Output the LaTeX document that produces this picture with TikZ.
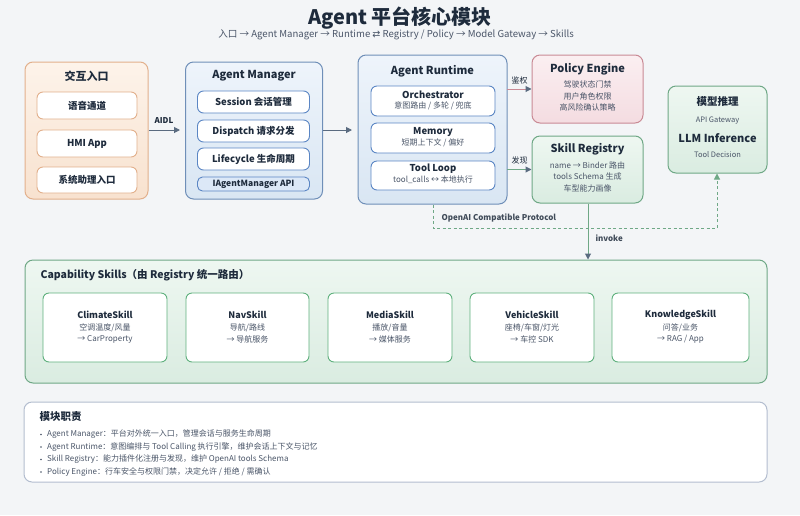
\documentclass[tikz,border=0pt]{standalone}
\usepackage{fontspec}
\setmainfont{Noto Sans CJK SC}
\newfontfamily\symf{DejaVu Sans}
\usetikzlibrary{arrows.meta,positioning}
\definecolor{bg}{HTML}{F3F5F7}
\definecolor{ink}{HTML}{1E2B3C}
\definecolor{sub}{HTML}{4A5568}
\definecolor{orgB}{HTML}{E2B08C}
\definecolor{orgT}{HTML}{FDF3EA}
\definecolor{orgBt}{HTML}{F8E2CF}
\definecolor{bluB}{HTML}{6F8FB8}
\definecolor{bluT}{HTML}{EEF4FB}
\definecolor{bluBt}{HTML}{D9E6F3}
\definecolor{inB}{HTML}{5B86C4}
\definecolor{apiF}{HTML}{DCE8F7}
\definecolor{pnkB}{HTML}{C98A95}
\definecolor{pnkT}{HTML}{FBEFF1}
\definecolor{pnkBt}{HTML}{F4DCE1}
\definecolor{grnB}{HTML}{6FA886}
\definecolor{grnT}{HTML}{EEF7F1}
\definecolor{grnBt}{HTML}{DAECE1}
\definecolor{skB}{HTML}{5FB07D}
\definecolor{arr}{HTML}{5A6B80}
\definecolor{resB}{HTML}{B3BDCF}
\tikzset{
  x=1pt,y=-1pt,
  bigbox/.style={rounded corners=8pt,line width=1pt,inner sep=0pt},
  inbox/.style={rounded corners=6pt,line width=0.9pt,fill=white,inner sep=0pt},
  ttl/.style={font=\fontsize{11}{13}\selectfont\bfseries,text=ink},
  itm/.style={font=\fontsize{9.5}{11}\selectfont\bfseries,text=ink},
  sm/.style={font=\fontsize{8}{10}\selectfont,text=sub},
  lbl/.style={font=\fontsize{8}{10}\selectfont\bfseries,text=sub},
  conn/.style={line width=1pt,-{Triangle[length=6pt,width=6pt]}},
  bul/.style={font=\fontsize{8}{10}\selectfont,text=sub,anchor=west,inner sep=0pt},
}
\begin{document}
\begin{tikzpicture}
\fill[bg] (0,0) rectangle (800,515);
\useasboundingbox (0,0) rectangle (800,515);
% title
\node[font=\fontsize{20}{24}\selectfont\bfseries,text=ink] (title) at (400,18) {Agent 平台核心模块};
\node[font=\fontsize{9.6}{12}\selectfont,text=sub] (subt) at (396,35) {入口 → Agent Manager → Runtime {\symf ⇄} Registry / Policy → Model Gateway → Skills};
% entry
\node[bigbox,draw=orgB,top color=orgT,bottom color=orgBt,minimum width=123,minimum height=137] (inp) at (86.5,130.5) {};
\node[ttl] (inpt) at (86.5,76) {交互入口};
\node[inbox,draw=orgB,minimum width=100,minimum height=27] (inp1) at (87,105.5) {};
\node[itm] at (inp1) {语音通道};
\node[inbox,draw=orgB,minimum width=100,minimum height=27] (inp2) at (87,143.5) {};
\node[itm] at (inp2) {HMI App};
\node[inbox,draw=orgB,minimum width=100,minimum height=26] (inp3) at (87,180) {};
\node[itm] at (inp3) {系统助理入口};
% agent manager
\node[bigbox,draw=bluB,top color=bluT,bottom color=bluBt,minimum width=137,minimum height=137] (am) at (254,130.5) {};
\node[ttl] (amt) at (254,76) {Agent Manager};
\node[inbox,draw=inB,minimum width=112,minimum height=22] (am1) at (253.5,102) {};
\node[itm] at (am1) {Session 会话管理};
\node[inbox,draw=inB,minimum width=112,minimum height=22] (am2) at (253.5,131) {};
\node[itm] at (am2) {Dispatch 请求分发};
\node[inbox,draw=inB,minimum width=112,minimum height=22] (am3) at (253.5,159) {};
\node[itm] at (am3) {Lifecycle 生命周期};
\node[inbox,draw=inB,fill=apiF,rounded corners=5pt,minimum width=112,minimum height=14] (am4) at (253.5,184) {};
\node[itm,font=\fontsize{8.5}{10}\selectfont\bfseries] at (am4) {IAgentManager API};
% runtime
\node[bigbox,draw=bluB,top color=bluT,bottom color=bluBt,minimum width=149,minimum height=149] (rt) at (432.5,129.5) {};
\node[ttl] (rtt) at (432.5,71) {Agent Runtime};
\node[inbox,draw=inB,minimum width=124,minimum height=30] (rt1) at (433,101) {};
\node[itm] at (433,95) {Orchestrator};
\node[sm] at (433,105.5) {意图路由 / 多轮 / 兜底};
\node[inbox,draw=inB,minimum width=124,minimum height=30] (rt2) at (433,138) {};
\node[itm] at (433,132) {Memory};
\node[sm] at (433,142.5) {短期上下文 / 偏好};
\node[inbox,draw=inB,minimum width=124,minimum height=29] (rt3) at (433,175.5) {};
\node[itm] at (433,169) {Tool Loop};
\node[sm] at (433,179.5) {tool\_calls ↔ 本地执行};
% policy
\node[bigbox,draw=pnkB,top color=pnkT,bottom color=pnkBt,minimum width=111,minimum height=68] (pol) at (587.5,89) {};
\node[ttl] at (587.5,69) {Policy Engine};
\node[sm] at (587.5,84.5) {驾驶状态门禁};
\node[sm] at (587.5,96) {用户角色权限};
\node[sm] at (587.5,107.5) {高风险确认策略};
% registry
\node[bigbox,draw=grnB,top color=grnT,bottom color=grnBt,minimum width=111,minimum height=67] (reg) at (587.5,169.5) {};
\node[ttl] at (587.5,149) {Skill Registry};
\node[sm] at (587.5,165) {name → Binder 路由};
\node[sm] at (587.5,176.5) {tools Schema 生成};
\node[sm] at (587.5,188) {车型能力画像};
% model
\node[bigbox,draw=grnB,top color=grnT,bottom color=grnBt,minimum width=99,minimum height=87] (mdl) at (717.5,129.5) {};
\node[ttl,font=\fontsize{10.5}{12}\selectfont\bfseries] at (717.5,102) {模型推理};
\node[sm,font=\fontsize{7.5}{9}\selectfont] at (717.5,121) {API Gateway};
\node[ttl] at (717.5,138) {LLM Inference};
\node[sm,font=\fontsize{7.5}{9}\selectfont] at (717.5,154.5) {Tool Decision};
% capability
\node[bigbox,draw=grnB,top color=grnT,bottom color=grnBt,minimum width=742,minimum height=123] (cap) at (396,321.5) {};
\node[ttl,font=\fontsize{10.5}{12}\selectfont\bfseries,anchor=west] at (37,275) {Capability Skills（由 Registry 统一路由）};
\node[inbox,draw=skB,minimum width=124,minimum height=69] (s1) at (105,327.5) {};
\node[itm,font=\fontsize{9}{11}\selectfont\bfseries] at (105,315) {ClimateSkill};
\node[sm] at (105,327.5) {空调温度/风量};
\node[sm] at (105,339) {→ CarProperty};
\node[inbox,draw=skB,minimum width=123,minimum height=69] (s2) at (247.5,327.5) {};
\node[itm,font=\fontsize{9}{11}\selectfont\bfseries] at (247.5,315) {NavSkill};
\node[sm] at (247.5,327.5) {导航/路线};
\node[sm] at (247.5,339) {→ 导航服务};
\node[inbox,draw=skB,minimum width=124,minimum height=69] (s3) at (390,327.5) {};
\node[itm,font=\fontsize{9}{11}\selectfont\bfseries] at (390,315) {MediaSkill};
\node[sm] at (390,327.5) {播放/音量};
\node[sm] at (390,339) {→ 媒体服务};
\node[inbox,draw=skB,minimum width=124,minimum height=69] (s4) at (532,327.5) {};
\node[itm,font=\fontsize{9}{11}\selectfont\bfseries] at (532,315) {VehicleSkill};
\node[sm] at (532,327.5) {座椅/车窗/灯光};
\node[sm] at (532,339) {→ 车控 SDK};
\node[inbox,draw=skB,minimum width=137,minimum height=69] (s5) at (680.5,327.5) {};
\node[itm,font=\fontsize{9}{11}\selectfont\bfseries] at (680.5,315) {KnowledgeSkill};
\node[sm] at (680.5,327.5) {问答/业务};
\node[sm] at (680.5,339) {→ RAG / App};
% responsibilities
\node[bigbox,draw=resB,fill=white,minimum width=743,minimum height=80] (res) at (395.5,442) {};
\node[ttl,font=\fontsize{10.5}{12}\selectfont\bfseries,anchor=west] at (36,417) {模块职责};
\foreach \yy in {434.5,447,459.5,472} {\fill[sub] (41,\yy) circle (0.9pt);}
\node[bul] at (47,434.5) {Agent Manager：平台对外统一入口，管理会话与服务生命周期};
\node[bul] at (47,447) {Agent Runtime：意图编排与 Tool Calling 执行引擎，维护会话上下文与记忆};
\node[bul] at (47,459.5) {Skill Registry：能力插件化注册与发现，维护 OpenAI tools Schema};
\node[bul] at (47,472) {Policy Engine：行车安全与权限门禁，决定允许 / 拒绝 / 需确认};
% connectors
\coordinate (aidlE) at (180,130);
\draw[conn,draw=arr] (inp.east |- aidlE) -- (aidlE);
\node[lbl,text=ink] at (164,121) {AIDL};
\coordinate (rtE) at (352,130);
\draw[conn,draw=arr] (am.east |- rtE) -- (rtE);
\coordinate (a1) at (507,89);
\draw[line width=1pt,draw=pnkB,-{Triangle[length=6pt,width=6pt,color=arr]}] (a1) -- (pol.west |- a1);
\node[font=\fontsize{8}{10}\selectfont,text=ink] at (519.5,80) {鉴权};
\coordinate (a2) at (507,169.5);
\draw[line width=1pt,draw=grnB,-{Triangle[length=6pt,width=6pt,color=arr]}] (a2) -- (reg.west |- a2);
\node[font=\fontsize{8}{10}\selectfont,text=ink] at (519.5,160) {发现};
\coordinate (d1) at (433,228);
\coordinate (d2) at (717,228);
\draw[line width=1pt,draw=grnB,dashed,dash pattern=on 3pt off 2.5pt,-{Triangle[length=6pt,width=6pt]}] (rt.south -| d1) -- (d1) -- (d2) -- (mdl.south -| d2);
\node[lbl,anchor=west,text=ink!85] at (438,218) {OpenAI Compatible Protocol};
\coordinate (iv) at (588,204);
\draw[line width=1pt,draw=grnB,-{Triangle[length=6pt,width=6pt,color=arr]}] (reg.south -| iv) -- (cap.north -| iv);
\node[font=\fontsize{8}{10}\selectfont\bfseries,text=ink!85,anchor=west] at (592,238) {invoke};
\end{tikzpicture}
\end{document}
